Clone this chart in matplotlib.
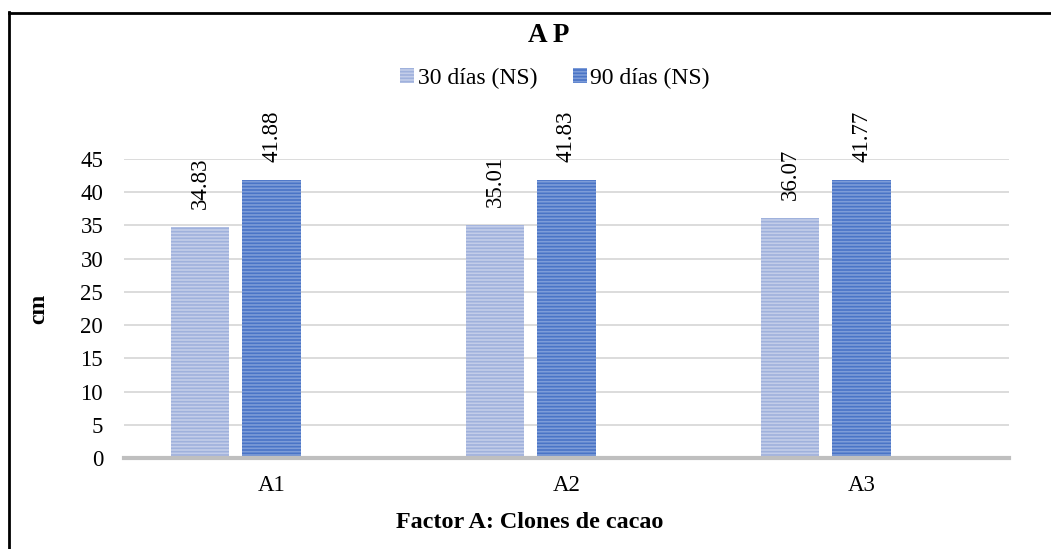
import matplotlib
matplotlib.use("Agg")
import matplotlib.pyplot as plt
from matplotlib.lines import Line2D
import numpy as np

plt.rcParams['font.family'] = ['Liberation Serif', 'DejaVu Serif']
plt.rcParams['hatch.linewidth'] = 1.2

categories = ["A1", "A2", "A3"]
series_names = ["30 días (NS)", "90 días (NS)"]
dias_30 = [34.83, 35.01, 36.07]
dias_90 = [41.88, 41.83, 41.77]
y_ticks = [0, 5, 10, 15, 20, 25, 30, 35, 40, 45]

W, H = 1051, 549
fig = plt.figure(figsize=(W / 100, H / 100), dpi=100)
ax = fig.add_axes([124 / W, 91 / H, (1009 - 124) / W, 299 / H])

x = np.arange(len(categories))
bar_w = 0.197
offsets = [-0.2424, 0.0]
faces = ["#c3cde9", "#4a74c6"]
hatch_cols = ["#9fb1dc", "#7d9cd8"]

bars_all = []
for vals, off, fc, hc, name in zip([dias_30, dias_90], offsets, faces, hatch_cols, series_names):
    bars = ax.bar(x + off, vals, width=bar_w, color=fc, edgecolor=hc,
                  hatch="-----", linewidth=0, label=name, zorder=3)
    bars_all.append(bars)
    for xi, v in zip(x + off, vals):
        ax.annotate(f"{v:.2f}", xy=(xi, v), xytext=(0, 13), textcoords="offset points",
                    rotation=90, ha="center", va="bottom", fontsize=16.5, color="#000000")

ax.set_xlim(-0.5, 2.5)
ax.set_ylim(0, 45)
ax.set_yticks(y_ticks)
ax.set_yticklabels([str(t) for t in y_ticks], fontsize=16.5)
ax.set_xticks(x)
ax.set_xticklabels(categories, fontsize=16.5)
ax.tick_params(axis="both", length=0)
ax.tick_params(axis="y", pad=15)
ax.tick_params(axis="x", pad=12)

ax.yaxis.grid(True, color="#d9d9d9", linewidth=1.3, zorder=0)
ax.set_axisbelow(True)
for s in ["top", "right", "left"]:
    ax.spines[s].set_visible(False)
ax.spines["bottom"].set_color("#bfbfbf")
ax.spines["bottom"].set_linewidth(3)
ax.spines["bottom"].set_zorder(4)

ax.set_ylabel("cm", fontsize=17, fontweight="bold", labelpad=22)
ax.set_xlabel("Factor A: Clones de cacao", fontsize=17.4, fontweight="bold")
ax.xaxis.set_label_coords((530 - 124) / 885, -(523 - 458) / 299)
ax.xaxis.label.set_va("center")

fig.text(549 / W, 1 - 35 / H, "A P", ha="center", va="center", fontsize=19.5, fontweight="bold")

fig.legend(handles=bars_all, labels=series_names, loc="center", bbox_to_anchor=(555 / W, 1 - 78 / H),
           ncol=2, frameon=False, fontsize=17, handlelength=0.6, handleheight=0.6,
           handletextpad=0.15, columnspacing=1.5)

# chart frame
fig.add_artist(Line2D([9 / W, 9 / W], [0, 1 - 12 / H], transform=fig.transFigure,
                      color="black", linewidth=2))
fig.add_artist(Line2D([9 / W, 1], [1 - 13 / H, 1 - 13 / H], transform=fig.transFigure,
                      color="black", linewidth=2))

fig.savefig("out.png", dpi=100)
